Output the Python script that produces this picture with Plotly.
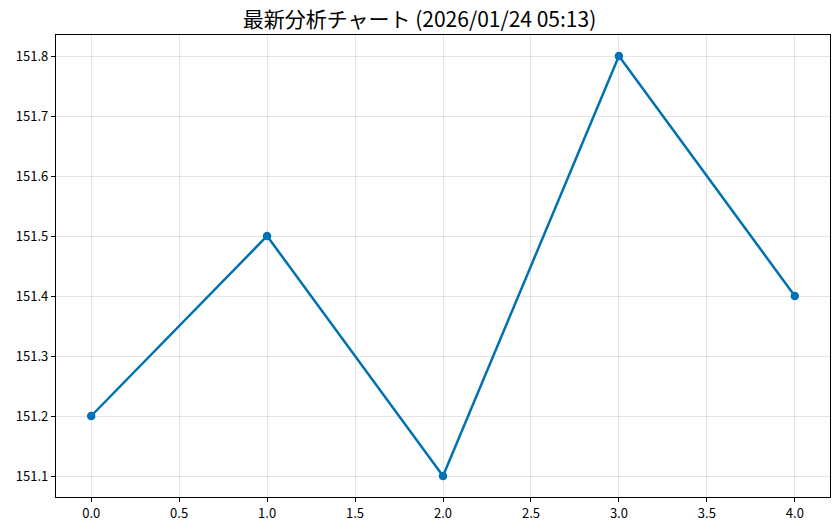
import plotly.graph_objects as go

x_vals = [0, 1, 2, 3, 4]
y_vals = [151.2, 151.5, 151.1, 151.8, 151.4]
title_text = "最新分析チャート (2026/01/24 05:13)"
x_ticks = [0.0, 0.5, 1.0, 1.5, 2.0, 2.5, 3.0, 3.5, 4.0]
y_ticks = [151.1, 151.2, 151.3, 151.4, 151.5, 151.6, 151.7, 151.8]

font_family = "Noto Sans CJK JP"

fig = go.Figure()
fig.add_trace(go.Scatter(
    x=x_vals, y=y_vals, mode="lines+markers",
    line=dict(color="#0072B2", width=2.5),
    marker=dict(color="#0072B2", size=8.5),
    showlegend=False,
))

axis_common = dict(
    showline=True, linecolor="black", linewidth=1.2, mirror=True,
    showgrid=True, gridcolor="rgba(0,0,0,0.1)", gridwidth=1,
    ticks="outside", ticklen=4, tickcolor="black", tickwidth=1,
    zeroline=False,
    tickfont=dict(family=font_family, size=13, color="black"),
)

fig.update_layout(
    width=839, height=530,
    paper_bgcolor="white", plot_bgcolor="white",
    margin=dict(l=56, r=9, t=35, b=33),
    title=dict(text=title_text, x=0.5, xanchor="center", y=1 - 20 / 530, yanchor="middle",
               font=dict(family=font_family, size=21, color="black")),
    xaxis=dict(range=[-0.2, 4.2], tickvals=x_ticks,
               ticktext=[f"{v:.1f}" for v in x_ticks], **axis_common),
    yaxis=dict(range=[151.065, 151.835], tickvals=y_ticks,
               ticktext=[f"{v:.1f}" for v in y_ticks], **axis_common),
)

fig.write_html("out.html", config={"displayModeBar": False},
               post_script="document.body.style.margin='0';")
